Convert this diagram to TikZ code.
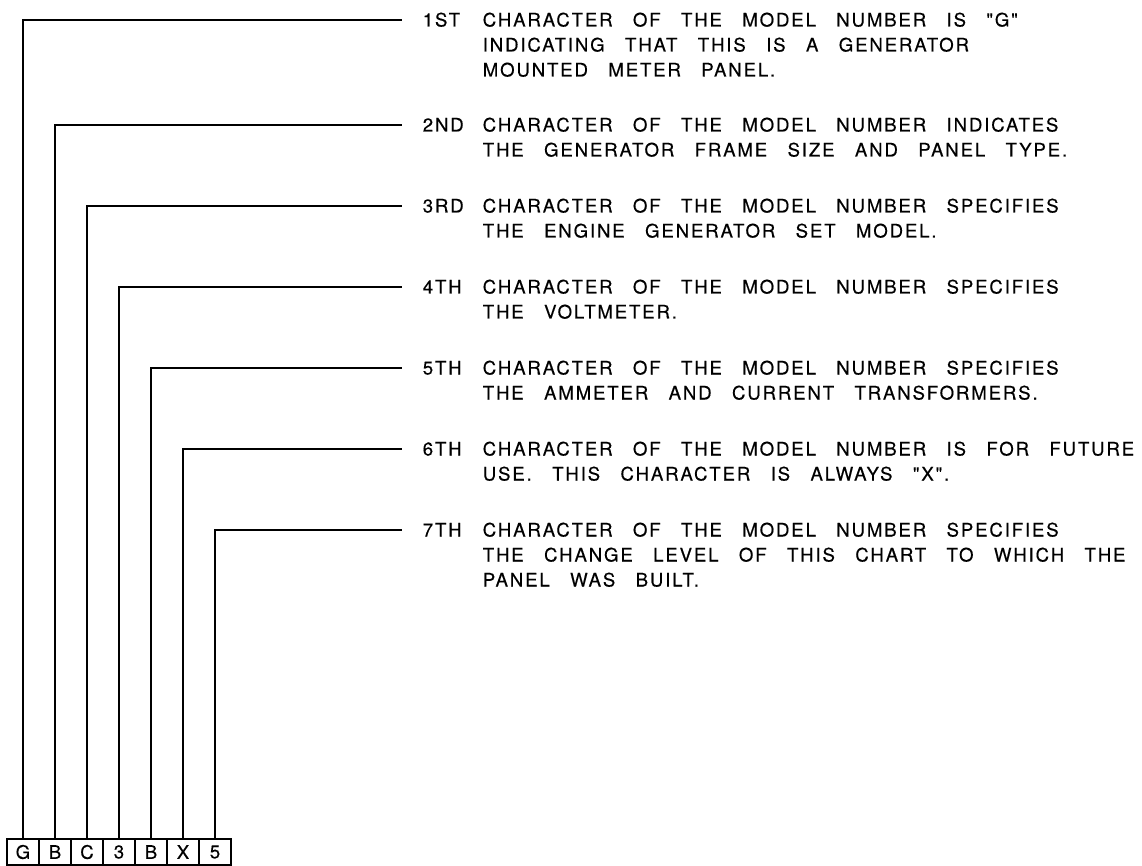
\documentclass[tikz,border=0pt]{standalone}
\usepackage{fontspec}
\newfontfamily\cadfont[LetterSpace=10,WordSpace=2.9,FakeBold=0.4]{TeX Gyre Heros}
\usetikzlibrary{positioning}

\newcommand{\firstline}{\rule{0pt}{17.5pt}}

\tikzset{
  charbox/.style={draw, minimum width=32pt, minimum height=26pt, inner sep=0pt,
    font=\cadfont\fontsize{18.6}{25}\selectfont},
  tagtext/.style={anchor=west, inner sep=0pt, text height=17.5pt, text depth=4.5pt,
    font=\cadfont\fontsize{18.6}{25}\selectfont},
  notetext/.style={anchor=north west, align=left, inner sep=0pt,
    font=\cadfont\fontsize{18.6}{25}\selectfont},
  leader/.style={shorten >=20pt}
}

\begin{document}
\begin{tikzpicture}[x=1pt, y=-1pt, line width=1.6pt]

\useasboundingbox (0,0) rectangle (1142,866);

% caselle del numero di modello
\foreach \i/\ch in {1/G, 2/B, 3/C, 4/3, 5/B, 6/X, 7/5}
  \node[charbox] (c\i) at ({23+32*(\i-1)},852) {\ch};

% sigle
\node[tagtext] (t1) at (422,20) {1ST};
\node[tagtext] (t2) at (422,125) {2ND};
\node[tagtext] (t3) at (422,206) {3RD};
\node[tagtext] (t4) at (422,287) {4TH};
\node[tagtext] (t5) at (422,368) {5TH};
\node[tagtext] (t6) at (422,449) {6TH};
\node[tagtext] (t7) at (422,530) {7TH};

% descrizioni
\node[notetext] (d1) at ([xshift=60pt]t1.north west)
  {\firstline CHARACTER OF THE MODEL NUMBER IS "G"\\ INDICATING THAT THIS IS A GENERATOR\\ MOUNTED METER PANEL.};
\node[notetext] (d2) at ([xshift=60pt]t2.north west)
  {\firstline CHARACTER OF THE MODEL NUMBER INDICATES\\ THE GENERATOR FRAME SIZE AND PANEL TYPE.};
\node[notetext] (d3) at ([xshift=60pt]t3.north west)
  {\firstline CHARACTER OF THE MODEL NUMBER SPECIFIES\\ THE ENGINE GENERATOR SET MODEL.};
\node[notetext] (d4) at ([xshift=60pt]t4.north west)
  {\firstline CHARACTER OF THE MODEL NUMBER SPECIFIES\\ THE VOLTMETER.};
\node[notetext] (d5) at ([xshift=60pt]t5.north west)
  {\firstline CHARACTER OF THE MODEL NUMBER SPECIFIES\\ THE AMMETER AND CURRENT TRANSFORMERS.};
\node[notetext] (d6) at ([xshift=60pt]t6.north west)
  {\firstline CHARACTER OF THE MODEL NUMBER IS FOR FUTURE\\ USE. THIS CHARACTER IS ALWAYS "X".};
\node[notetext] (d7) at ([xshift=60pt]t7.north west)
  {\firstline CHARACTER OF THE MODEL NUMBER SPECIFIES\\ THE CHANGE LEVEL OF THIS CHART TO WHICH THE\\ PANEL WAS BUILT.};

% linee di richiamo
\foreach \i in {1,...,7}
  \draw[leader] (c\i.north) |- (t\i.west);

\end{tikzpicture}
\end{document}
